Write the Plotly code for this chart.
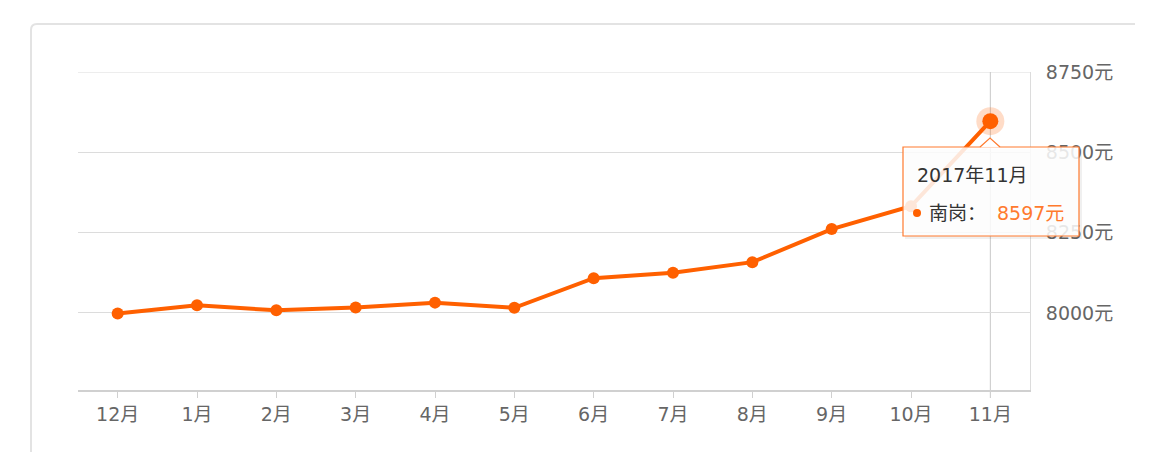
import plotly.graph_objects as go

months = ["12月", "1月", "2月", "3月", "4月", "5月", "6月", "7月", "8月", "9月", "10月", "11月"]
prices = [7998, 8024, 8008, 8017, 8032, 8016, 8108, 8125, 8158, 8261, 8332, 8597]
y_ticks = [8000, 8250, 8500, 8750]
y_tick_labels = ["8000元", "8250元", "8500元", "8750元"]
y_range = [7760, 8750]
series_name = "南岗"
tooltip_title = "2017年11月"

# page offset (default body margin of the html page)
OFF = 8
W, H = 1174 - 2 * OFF, 468 - 2 * OFF
# plot area in page pixels
PX0, PX1, PY0, PY1 = 78, 1030, 72, 390
ML, MT = PX0 - OFF, PY0 - OFF
PW, PH = PX1 - PX0, PY1 - PY0
MR, MB = W - ML - PW, H - MT - PH

def px(x):
    return (x - PX0) / PW

def py(y):
    return (PY1 - y) / PH

ORANGE = "#FF6000"
TIP = "#FF7A2E"
GRID = "#dcdcdc"
FONT = "DejaVu Sans, Noto Sans CJK SC, sans-serif"
FS = 19

fig = go.Figure()

# halo around highlighted point
fig.add_trace(go.Scatter(
    x=[months[-1]], y=[prices[-1]], mode="markers",
    marker=dict(size=28, color="rgba(255,96,0,0.22)", line=dict(width=0)),
    hoverinfo="skip", showlegend=False,
))

sizes = [12] * (len(prices) - 1) + [16]
fig.add_trace(go.Scatter(
    x=months, y=prices, mode="lines+markers", name=series_name,
    line=dict(color=ORANGE, width=4),
    marker=dict(size=sizes, color=ORANGE, opacity=1, line=dict(width=0)),
    showlegend=False,
))

shapes = []
# card border (top + left with rounded corner)
shapes.append(dict(
    type="path", xref="paper", yref="paper",
    path=f"M {px(1135)},{py(24)} L {px(37)},{py(24)} Q {px(31)},{py(24)} {px(31)},{py(30)} L {px(31)},{py(452)}",
    line=dict(color="#e3e3e3", width=2), layer="below",
))
# top gridline
shapes.append(dict(
    type="line", xref="paper", yref="y", x0=0, x1=1, y0=y_ticks[-1], y1=y_ticks[-1],
    line=dict(color=GRID, width=1), layer="below",
))
# crosshair
shapes.append(dict(
    type="line", xref="x", yref="paper", x0=months[-1], x1=months[-1],
    y0=py(398), y1=1, line=dict(color="#c8c8c8", width=1), layer="below",
))
# tooltip shadow
shapes.append(dict(
    type="rect", xref="paper", yref="paper",
    x0=px(905), x1=px(1082), y0=py(149), y1=py(239),
    fillcolor="rgba(0,0,0,0.06)", line=dict(width=0), layer="above",
))
# tooltip box
shapes.append(dict(
    type="rect", xref="paper", yref="paper",
    x0=px(903), x1=px(1079), y0=py(147), y1=py(236),
    fillcolor="rgba(255,255,255,0.85)", line=dict(color=TIP, width=1.2), layer="above",
))
# tooltip pointer
shapes.append(dict(
    type="path", xref="paper", yref="paper",
    path=f"M {px(980)},{py(147.5)} L {px(990)},{py(138)} L {px(1000)},{py(147.5)} Z",
    fillcolor="rgba(255,255,255,0.95)", line=dict(width=0), layer="above",
))
shapes.append(dict(
    type="path", xref="paper", yref="paper",
    path=f"M {px(980)},{py(147)} L {px(990)},{py(138)} L {px(1000)},{py(147)}",
    line=dict(color=TIP, width=1.2), layer="above",
))
# dot in tooltip
shapes.append(dict(
    type="circle", xref="paper", yref="paper",
    x0=px(913), x1=px(921), y0=py(209), y1=py(217),
    fillcolor=ORANGE, line=dict(width=0), layer="above",
))

annotations = [
    dict(xref="paper", yref="paper", x=px(915), y=py(175), text=tooltip_title,
         showarrow=False, xanchor="left", yanchor="middle",
         font=dict(family=FONT, size=FS, color="#333333")),
    dict(xref="paper", yref="paper", x=px(927), y=py(213), text=series_name + "：",
         showarrow=False, xanchor="left", yanchor="middle",
         font=dict(family=FONT, size=FS, color="#333333")),
    dict(xref="paper", yref="paper", x=px(995), y=py(213), text=f"{prices[-1]}元",
         showarrow=False, xanchor="left", yanchor="middle",
         font=dict(family=FONT, size=FS, color=TIP)),
]

fig.update_layout(
    width=W, height=H,
    margin=dict(l=ML, r=MR, t=MT, b=MB, pad=0),
    paper_bgcolor="white", plot_bgcolor="white",
    font=dict(family=FONT, size=FS, color="#666666"),
    shapes=shapes, annotations=annotations,
    xaxis=dict(
        type="category", categoryorder="array", categoryarray=months,
        range=[-0.5, len(months) - 0.5],
        showgrid=False, zeroline=False,
        showline=True, linecolor="#d0d0d0", linewidth=2,
        ticks="outside", ticklen=6, tickcolor="#d0d0d0", tickwidth=1,
        tickfont=dict(family=FONT, size=FS, color="#666666"),
    ),
    yaxis=dict(
        side="right", range=y_range,
        tickvals=y_ticks, ticktext=y_tick_labels,
        showgrid=True, gridcolor=GRID, gridwidth=1,
        zeroline=False, showline=True, linecolor=GRID, linewidth=1, mirror=False,
        ticks="", ticklabelstandoff=11,
        tickfont=dict(family=FONT, size=FS, color="#666666"),
    ),
)

fig.write_html("out.html")
